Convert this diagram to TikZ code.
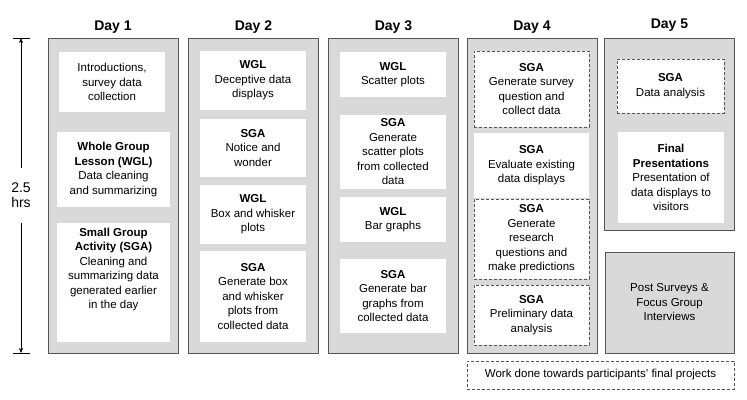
\documentclass[tikz,border=0pt]{standalone}
\usepackage{fontspec}
\setmainfont{Liberation Sans}
\usepackage{tikz}
\usepackage{xcolor}
\usetikzlibrary{arrows.meta,positioning}

\definecolor{colbg}{RGB}{217,217,217}
\definecolor{colline}{RGB}{85,85,85}

\tikzset{
  daycol/.style={draw=colline, line width=0.9pt, fill=colbg, minimum width=130, inner sep=0pt},
  dayhead/.style={font=\fontsize{14}{16}\selectfont\bfseries, inner sep=0pt},
  actbox/.style={fill=white, align=center, inner sep=2pt, font=\fontsize{11.5}{14.5}\selectfont},
  dashbox/.style={actbox, draw=colline, line width=0.8pt, dash pattern=on 3pt off 2pt}
}

\begin{document}
\begin{tikzpicture}[x=1pt, y=-1pt, >={Stealth[length=5pt,width=4pt]}]
\useasboundingbox (0,0) rectangle (747,399);

% day columns
\foreach \i/\x in {1/113,2/253.5,3/393.5,4/532}{
  \node[daycol, minimum height=315] (col\i) at (\x,195.5) {};
  \node[dayhead, above=4pt of col\i] (head\i) {Day \i};
}
\node[daycol, minimum height=192] (col5) at (669.5,134) {};
\node[dayhead, above=6pt of col5] (head5) {Day 5};

% time scale
\coordinate (ttop) at (21,38);
\coordinate (tbot) at (21,353);
\node[font=\fontsize{14}{15}\selectfont, align=center, minimum height=55, inner sep=0pt] (hrs) at (21,195.5) {2.5\\hrs};
\draw[->, thin] (hrs) -- (ttop);
\draw[->, thin] (hrs) -- (tbot);
\draw[thin] (13,38) -- (30,38);
\draw[thin] (13,353) -- (30,353);

% day 1
\node[actbox, minimum width=106, minimum height=60] (d1intro) at (112,82) {Introductions,\\survey data\\collection};
\node[actbox, minimum width=113, minimum height=75] (d1wgl) at (113.5,169.5) {\textbf{Whole Group}\\\textbf{Lesson (WGL)}\\Data cleaning\\and summarizing};
\node[actbox, minimum width=113, minimum height=119] (d1sga) at (113.5,282.5) {\textbf{Small Group}\\\textbf{Activity (SGA)}\\Cleaning and\\summarizing data\\generated earlier\\in the day\\[14pt]};

% day 2
\node[actbox, minimum width=106, minimum height=59] (d2wgl) at (253,80.5) {\textbf{WGL}\\Deceptive data\\displays};
\node[actbox, minimum width=106, minimum height=58] (d2sga) at (253,148) {\textbf{SGA}\\Notice and\\wonder};
\node[actbox, minimum width=106, minimum height=59] (d2box) at (253,214.5) {\textbf{WGL}\\Box and whisker\\plots};
\node[actbox, minimum width=106, minimum height=91] (d2gen) at (253,296.5) {\textbf{SGA}\\Generate box\\and whisker\\plots from\\collected data};

% day 3
\node[actbox, minimum width=106, minimum height=45] (d3wgl) at (393,74.5) {\textbf{WGL}\\Scatter plots};
\node[actbox, minimum width=106, minimum height=74, inner ysep=0pt] (d3sga) at (393,152) {\textbf{SGA}\\Generate\\scatter plots\\from collected\\data};
\node[actbox, minimum width=106, minimum height=45] (d3bar) at (393,219.5) {\textbf{WGL}\\Bar graphs};
\node[actbox, minimum width=106, minimum height=74] (d3gen) at (393,296) {\textbf{SGA}\\Generate bar\\graphs from\\collected data};

% day 4
\node[dashbox, minimum width=115, minimum height=76] (d4survey) at (531.5,89) {\textbf{SGA}\\Generate survey\\question and\\collect data};
\node[actbox, minimum width=115, minimum height=65] (d4eval) at (531.5,165.5) {\textbf{SGA}\\Evaluate existing\\data displays};
\node[dashbox, minimum width=115, minimum height=80] (d4research) at (531.5,239) {\textbf{SGA}\\Generate\\research\\questions and\\make predictions};
\node[dashbox, minimum width=115, minimum height=60] (d4prelim) at (531.5,315) {\textbf{SGA}\\Preliminary data\\analysis};

% day 5
\node[dashbox, minimum width=107, minimum height=54] (d5sga) at (670.5,86) {\textbf{SGA}\\Data analysis};
\node[actbox, minimum width=106, minimum height=91] (d5final) at (671,177.5) {\textbf{Final}\\\textbf{Presentations}\\Presentation of\\data displays to\\visitors};

% post surveys
\node[daycol, minimum width=129, minimum height=101, align=center, font=\fontsize{11.5}{14.5}\selectfont] (post) at (669.5,302.5) {Post Surveys \&\\Focus Group\\Interviews};

% legend
\node[dashbox, minimum width=267, minimum height=28] (legend) at (600.5,375) {Work done towards participants' final projects};
\end{tikzpicture}
\end{document}
